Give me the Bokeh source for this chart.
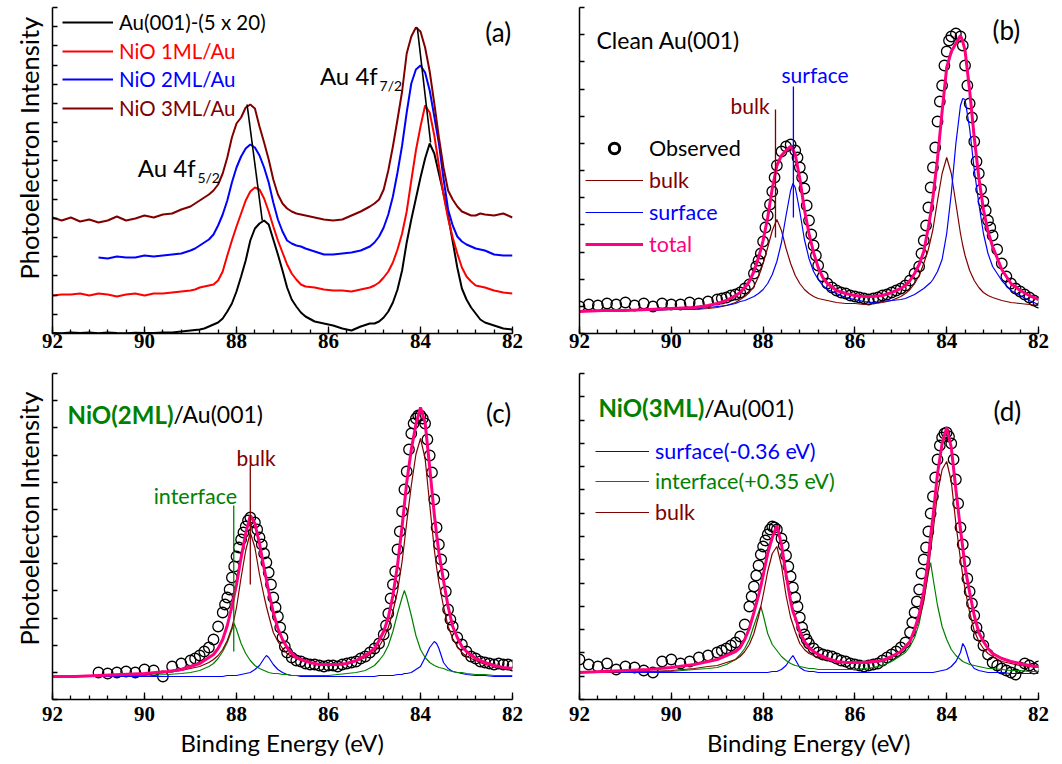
import math
from bokeh.plotting import figure
from bokeh.models import (Range1d, SingleIntervalTicker, FixedTicker, CustomJSTickFormatter,
                          Label, Legend, LegendItem, Title)
from bokeh.layouts import row, column
from bokeh.embed import file_html
from bokeh.resources import INLINE

# ======================= DATA =======================
# ---- panel (a): Au 4f spectra (binding energy, intensity in arbitrary units) ----
E_A = [92.0, 91.8, 91.6, 91.4, 91.2, 91.0, 90.8, 90.6, 90.4, 90.2,
       90.0, 89.8, 89.6, 89.4, 89.2, 89.0, 88.9, 88.8, 88.7, 88.6,
       88.5, 88.4, 88.3, 88.2, 88.1, 88.0, 87.9, 87.8, 87.7, 87.6,
       87.5, 87.4, 87.3, 87.2, 87.1, 87.0, 86.9, 86.8, 86.7, 86.6,
       86.5, 86.3, 86.1, 85.9, 85.7, 85.5, 85.3, 85.1, 85.0, 84.9,
       84.8, 84.7, 84.6, 84.5, 84.4, 84.3, 84.2, 84.1, 84.0, 83.9,
       83.8, 83.7, 83.6, 83.5, 83.4, 83.3, 83.2, 83.1, 83.0, 82.9,
       82.8, 82.7, 82.6, 82.4, 82.2, 82.0]
A_CLEAN = [0.5, 0.3, 1, 0.5, 1, 0.3, 1, 0.5, 0.3, 0.8,
           0.5, 0.5, 1, 1, 2, 3, 3.5, 4, 5, 7,
           9, 11, 15, 22, 30, 42, 57, 73, 93, 105,
           110, 113, 109, 94, 79, 63, 46, 34, 27, 21,
           17, 12, 10, 8, 5, 3, 7, 10, 10, 12,
           16, 22, 31, 44, 63, 91, 114, 135, 156, 175,
           190, 180, 160, 140, 118, 92, 66, 45, 34, 26,
           20, 14, 11, 8, 5, 4]
A_1ML = [38, 39, 39, 40, 38, 40, 39, 37, 39, 40,
         38, 40, 40, 41, 42, 43, 44, 46, 47, 48,
         49, 53, 62, 78, 93, 107, 120, 133, 142, 146,
         144, 135, 122, 107, 93, 81, 69, 60, 54, 49,
         47, 46, 44, 43, 43, 42, 44, 46, 48, 51,
         56, 62, 71, 84, 100, 122, 153, 183, 207, 228,
         221, 198, 168, 139, 115, 96, 80, 66, 57, 52,
         48, 47, 46, 43, 41, 40]
A_2ML = [None, None, None, None, None, 76, 75, 77, 76, 76,
         78, 77, 78, 79, 80, 83, 85, 88, 91, 94,
         99, 108, 119, 133, 151, 166, 177, 185, 189, 186,
         178, 166, 151, 131, 114, 102, 93, 90, 88, 87,
         85, 82, 79, 79, 80, 81, 83, 87, 91, 97,
         106, 119, 137, 161, 188, 221, 250, 264, 268, 261,
         243, 217, 190, 155, 124, 108, 97, 92, 89, 87,
         85, 84, 83, 79, 78, 78]
A_3ML = [116, 113, 116, 112, 114, 111, 113, 117, 113, 115,
         118, 116, 119, 120, 124, 127, 130, 133, 136, 139,
         143, 149, 160, 176, 196, 210, 216, 226, 229, 225,
         207, 191, 174, 154, 139, 130, 125, 122, 120, 119,
         118, 116, 114, 113, 114, 118, 122, 127, 130, 134,
         144, 163, 187, 214, 242, 280, 297, 306, 302, 286,
         262, 230, 196, 166, 143, 134, 127, 122, 120, 118,
         118, 120, 119, 118, 120, 116]
# peak-maximum shift guides (3ML peak -> clean peak)
A_SHIFT52_E = [87.77, 87.44]
A_SHIFT52_I = [229, 113]
A_SHIFT72_E = [84.07, 83.78]
A_SHIFT72_I = [306, 191]

# ---- common energy grid of the fitted components, panels (b)-(d) ----
E_FIT = [92.0, 91.5, 91.0, 90.5, 90.0, 89.5, 89.2, 89.0, 88.8, 88.6,
         88.5, 88.4, 88.3, 88.2, 88.1, 88.05, 88.0, 87.9, 87.8, 87.7,
         87.6, 87.5, 87.4, 87.35, 87.3, 87.2, 87.1, 87.0, 86.9, 86.8,
         86.7, 86.6, 86.4, 86.2, 86.0, 85.8, 85.6, 85.4, 85.2, 85.0,
         84.9, 84.8, 84.7, 84.6, 84.5, 84.4, 84.35, 84.3, 84.2, 84.1,
         84.0, 83.9, 83.8, 83.7, 83.65, 83.6, 83.5, 83.4, 83.3, 83.2,
         83.1, 83.0, 82.8, 82.6, 82.4, 82.2, 82.0]

# ---- panel (b): clean Au(001) ----
OBS_B = [(92.0, 27), (91.8, 29), (91.6, 28), (91.4, 30), (91.2, 29), (91.0, 31), (90.8, 28),
         (90.6, 30), (90.4, 27), (90.2, 30), (90.0, 29), (89.8, 29), (89.6, 31), (89.4, 30),
         (89.2, 32), (89.0, 34), (88.9, 35), (88.8, 36), (88.7, 38), (88.6, 39), (88.5, 41),
         (88.4, 45), (88.3, 49), (88.2, 60), (88.15, 67), (88.1, 73), (88.05, 80), (88.0, 92),
         (87.95, 106), (87.9, 118), (87.85, 129), (87.8, 142), (87.75, 156), (87.7, 168),
         (87.6, 182), (87.5, 187), (87.4, 189), (87.3, 183), (87.25, 176), (87.2, 166),
         (87.15, 156), (87.1, 145), (87.05, 128), (87.0, 113), (86.95, 99), (86.9, 88),
         (86.85, 78), (86.8, 68), (86.7, 57), (86.6, 50), (86.5, 46), (86.4, 43), (86.3, 41),
         (86.2, 40), (86.1, 38), (86.0, 37), (85.9, 36), (85.8, 35), (85.7, 34), (85.6, 35),
         (85.5, 36), (85.4, 38), (85.3, 39), (85.2, 41), (85.1, 43), (85.0, 45), (84.9, 48),
         (84.8, 53), (84.7, 60), (84.6, 67), (84.55, 80), (84.5, 93), (84.45, 108), (84.4, 126),
         (84.35, 146), (84.3, 166), (84.25, 186), (84.2, 212), (84.15, 232), (84.1, 248),
         (84.05, 268), (84.0, 282), (83.95, 293), (83.9, 297), (83.8, 300), (83.7, 297),
         (83.65, 288), (83.6, 268), (83.55, 248), (83.5, 230), (83.45, 216), (83.4, 192),
         (83.35, 172), (83.3, 160), (83.25, 144), (83.2, 132), (83.15, 123), (83.1, 113),
         (83.05, 106), (83.0, 98), (82.9, 84), (82.8, 70), (82.7, 57), (82.6, 50), (82.5, 45),
         (82.4, 42), (82.3, 39), (82.2, 36), (82.1, 33), (82.0, 31)]
B_TOTAL = [22, 23, 23, 24, 25, 26, 28, 30, 33, 38,
           41, 46, 52, 62, 76, 84, 93, 116, 145, 168,
           178, 183, 187, 184, 179, 155, 124, 100, 81, 66,
           56, 50, 43, 40, 38, 37, 37, 38, 41, 45,
           48, 53, 60, 69, 82, 106, 120, 136, 175, 222,
           266, 282, 290, 298, 292, 283, 243, 196, 156, 124,
           102, 87, 64, 50, 43, 38, 34]
B_BULK = [23, 23, 23, 23, 24, 24, 25, 26, 28, 31,
          34, 37, 41, 47, 57, 63, 70, 86, 103, 114,
          103, 85, 70, 64, 58, 50, 44, 40, 37, 35,
          34, 33, 31, 30, 30, 29, 30, 31, 33, 37,
          40, 44, 50, 58, 70, 84, 94, 104, 133, 160,
          176, 160, 130, 100, 88, 78, 63, 53, 46, 41,
          38, 36, 33, 31, 30, 29, 28]
B_SURF = [22, 22, 23, 23, 24, 25, 26, 27, 28, 30,
          32, 33, 35, 37, 40, 42, 44, 50, 59, 72,
          91, 118, 143, 150, 146, 122, 94, 75, 62, 54,
          48, 44, 40, 36, 34, 32, 31, 32, 33, 34,
          35, 37, 39, 42, 45, 49, 51, 54, 62, 74,
          100, 140, 190, 228, 235, 234, 205, 164, 130, 100,
          80, 67, 53, 43, 38, 33, 29]
B_MARK_E = [87.73, 87.34]
B_MARK_LO = [96, 116]
B_MARK_HI = [224, 247]

# ---- panel (c): NiO(2ML)/Au(001) ----
OBS_C = [(91.0, 27), (90.8, 26), (90.6, 27), (90.4, 28), (90.2, 27), (90.0, 30), (89.8, 29),
         (89.6, 23), (89.4, 33), (89.2, 36), (89.0, 39), (88.9, 41), (88.8, 44), (88.7, 48),
         (88.6, 52), (88.5, 60), (88.4, 73), (88.3, 87), (88.25, 95), (88.2, 102), (88.15, 110),
         (88.1, 122), (88.05, 133), (88.0, 143), (87.95, 152), (87.9, 160), (87.85, 167),
         (87.8, 173), (87.75, 179), (87.7, 182), (87.6, 177), (87.55, 170), (87.5, 162),
         (87.45, 155), (87.4, 146), (87.35, 137), (87.3, 127), (87.25, 115), (87.2, 102),
         (87.15, 92), (87.1, 83), (87.05, 72), (87.0, 62), (86.95, 53), (86.9, 47), (86.8, 42),
         (86.7, 39), (86.6, 38), (86.5, 36), (86.4, 35), (86.3, 35), (86.2, 34), (86.1, 33),
         (86.0, 34), (85.9, 34), (85.8, 33), (85.7, 35), (85.6, 36), (85.5, 37), (85.4, 38),
         (85.3, 41), (85.2, 43), (85.1, 47), (85.0, 51), (84.9, 56), (84.8, 65), (84.75, 74),
         (84.7, 86), (84.65, 101), (84.6, 115), (84.55, 128), (84.5, 150), (84.45, 168),
         (84.4, 188), (84.35, 210), (84.3, 228), (84.25, 250), (84.2, 266), (84.15, 276),
         (84.1, 281), (84.05, 284), (84.0, 284), (83.95, 281), (83.9, 276), (83.85, 260),
         (83.8, 244), (83.75, 227), (83.7, 200), (83.65, 172), (83.6, 155), (83.55, 140),
         (83.5, 125), (83.45, 108), (83.4, 90), (83.35, 80), (83.3, 73), (83.2, 62), (83.1, 55),
         (83.0, 48), (82.9, 43), (82.8, 41), (82.7, 38), (82.6, 37), (82.5, 36), (82.4, 35),
         (82.3, 36), (82.2, 35), (82.1, 35), (82.0, 34)]
C_TOTAL = [23, 23, 24, 25, 26, 28, 30, 33, 36, 42,
           45, 51, 60, 74, 93, 104, 115, 142, 166, 184,
           176, 156, 131, 120, 108, 87, 71, 60, 52, 46,
           42, 40, 37, 35, 35, 35, 36, 39, 44, 51,
           59, 68, 82, 104, 134, 173, 195, 217, 250, 275,
           292, 277, 232, 185, 165, 147, 119, 93, 73, 62,
           53, 48, 41, 37, 34, 32, 31]
C_BULK = [24, 24, 24, 25, 25, 27, 29, 31, 33, 37,
          40, 44, 50, 59, 72, 81, 92, 122, 149, 167,
          152, 125, 103, 93, 84, 67, 58, 51, 46, 43,
          41, 39, 37, 35, 35, 35, 36, 38, 42, 48,
          53, 61, 72, 88, 108, 138, 157, 177, 214, 245,
          261, 241, 195, 150, 132, 117, 93, 73, 61, 53,
          47, 43, 39, 35, 33, 32, 31]
C_INTF = [23, 23, 24, 24, 24, 25, 26, 27, 29, 33,
          36, 41, 48, 57, 70, 76, 70, 56, 46, 39,
          34, 31, 29, 28, 27, 26, 26, 25, 25, 24,
          24, 24, 24, 24, 24, 25, 26, 27, 29, 34,
          39, 45, 54, 68, 86, 102, 109, 102, 84, 64,
          50, 42, 37, 34, 33, 32, 31, 29, 28, 27,
          27, 26, 25, 25, 24, 24, 24]
C_SURF = [23, 23, 23, 23, 23, 23, 23, 23, 23, 23,
          23, 23, 23, 24, 24, 24, 24, 25, 26, 27,
          30, 34, 41, 44, 42, 35, 30, 27, 25, 24,
          24, 23, 23, 23, 23, 23, 23, 23, 23, 23,
          24, 24, 24, 24, 25, 25, 26, 26, 27, 30,
          33, 42, 52, 58, 56, 51, 37, 31, 28, 27,
          26, 25, 24, 24, 23, 23, 23]
C_MARK_E = [87.70, 88.06]
C_MARK_LO = [115, 48]
C_MARK_HI = [235, 194]

# ---- panel (d): NiO(3ML)/Au(001) ----
OBS_D = [(92.0, 40), (91.8, 35), (91.6, 33), (91.4, 36), (91.2, 30), (91.0, 33), (90.8, 32),
         (90.6, 29), (90.4, 27), (90.2, 38), (90.0, 40), (89.8, 36), (89.6, 38), (89.4, 42),
         (89.2, 44), (89.0, 47), (88.9, 49), (88.8, 51), (88.7, 54), (88.6, 57), (88.5, 63),
         (88.4, 75), (88.3, 93), (88.25, 103), (88.2, 113), (88.15, 124), (88.1, 134),
         (88.05, 145), (88.0, 153), (87.95, 159), (87.9, 165), (87.85, 170), (87.8, 173),
         (87.75, 172), (87.7, 170), (87.6, 161), (87.55, 154), (87.5, 144), (87.45, 133),
         (87.4, 123), (87.35, 112), (87.3, 102), (87.25, 93), (87.2, 82), (87.15, 72),
         (87.1, 65), (87.05, 60), (87.0, 56), (86.9, 51), (86.8, 47), (86.7, 45), (86.6, 44),
         (86.5, 43), (86.4, 41), (86.3, 39), (86.2, 38), (86.1, 36), (86.0, 35), (85.9, 34),
         (85.8, 33), (85.7, 34), (85.6, 35), (85.5, 36), (85.4, 39), (85.3, 42), (85.2, 45),
         (85.1, 48), (85.0, 52), (84.9, 57), (84.8, 67), (84.75, 77), (84.7, 87), (84.65, 98),
         (84.6, 110), (84.55, 126), (84.5, 140), (84.45, 152), (84.4, 168), (84.35, 186),
         (84.3, 203), (84.25, 222), (84.2, 240), (84.15, 254), (84.1, 262), (84.05, 266),
         (84.0, 267), (83.95, 263), (83.9, 256), (83.85, 240), (83.8, 220), (83.75, 196),
         (83.7, 172), (83.65, 155), (83.6, 138), (83.55, 121), (83.5, 108), (83.45, 96),
         (83.4, 84), (83.35, 72), (83.3, 64), (83.2, 54), (83.1, 45), (83.0, 37), (82.9, 34),
         (82.8, 31), (82.7, 29), (82.6, 27), (82.5, 25), (82.4, 32), (82.3, 36), (82.2, 34),
         (82.1, 31), (82.0, 33)]
D_TOTAL = [27, 28, 29, 30, 32, 35, 38, 40, 44, 48,
           52, 60, 71, 87, 104, 113, 124, 146, 162, 174,
           155, 125, 98, 88, 82, 68, 58, 52, 48, 45,
           43, 41, 38, 37, 37, 37, 38, 39, 43, 48,
           53, 58, 70, 85, 108, 140, 164, 182, 226, 256,
           272, 252, 210, 170, 152, 132, 107, 84, 67, 58,
           51, 46, 41, 38, 36, 34, 33]
D_BULK = [27, 27, 28, 28, 29, 31, 33, 34, 37, 40,
          43, 48, 55, 66, 83, 93, 104, 128, 146, 153,
          134, 104, 82, 75, 68, 56, 50, 46, 44, 42,
          41, 40, 38, 37, 36, 36, 37, 38, 42, 48,
          53, 58, 68, 80, 98, 128, 150, 167, 206, 230,
          238, 218, 176, 140, 124, 110, 87, 69, 58, 51,
          46, 43, 38, 36, 34, 33, 32]
D_INTF = [27, 27, 28, 28, 28, 30, 31, 32, 35, 40,
          45, 51, 60, 74, 87, 93, 85, 66, 55, 49,
          43, 39, 36, 35, 34, 33, 32, 31, 31, 30,
          30, 30, 30, 30, 30, 31, 32, 34, 38, 44,
          47, 53, 62, 76, 100, 126, 137, 122, 94, 73,
          60, 50, 44, 40, 38, 37, 35, 34, 33, 32,
          31, 31, 30, 29, 29, 28, 28]
D_SURF = [27, 27, 27, 27, 27, 27, 27, 27, 27, 27,
          27, 27, 27, 27, 27, 27, 27, 27, 28, 28,
          30, 34, 41, 44, 40, 32, 29, 28, 28, 27,
          27, 27, 27, 27, 27, 27, 27, 27, 27, 27,
          27, 27, 27, 27, 27, 27, 27, 27, 28, 29,
          30, 33, 38, 47, 56, 52, 37, 31, 29, 28,
          27, 27, 27, 26, 26, 26, 26]

for arr in (A_CLEAN, A_1ML, A_2ML, A_3ML):
    assert len(arr) == len(E_A)
for arr in (B_TOTAL, B_BULK, B_SURF, C_TOTAL, C_BULK, C_INTF, C_SURF,
            D_TOTAL, D_BULK, D_INTF, D_SURF):
    assert len(arr) == len(E_FIT)

# ======================= STYLE =======================
BLACK = "#000000"
RED = "#FF0000"
BLUE = "#0000FF"
WINE = "#800000"
PINK = "#FF0080"
GREEN = "#008000"
SANS = "Lato"
YMAX = 326.0
FRAME_H = 326


def base_fig(width, height, left, right, top, bottom, n_int, label_standoff, xlabel=None):
    p = figure(width=width, height=height, x_range=Range1d(92, 82), y_range=Range1d(0, YMAX),
               output_backend="svg", toolbar_location=None,
               min_border_left=left, min_border_right=right,
               min_border_top=top, min_border_bottom=bottom)
    p.outline_line_color = None
    p.xgrid.visible = False
    p.ygrid.visible = False
    xa = p.xaxis[0]
    xa.ticker = SingleIntervalTicker(interval=2, num_minor_ticks=5)
    xa.major_tick_in = 7
    xa.major_tick_out = 0
    xa.minor_tick_in = 4
    xa.minor_tick_out = 0
    xa.axis_line_width = 1.5
    xa.major_tick_line_width = 1.3
    xa.minor_tick_line_width = 1.3
    xa.major_label_text_font = "Liberation Serif"
    xa.major_label_text_font_style = "bold"
    xa.major_label_text_font_size = "21px"
    xa.major_label_text_color = BLACK
    xa.major_label_standoff = label_standoff
    if xlabel:
        xa.axis_label = xlabel
        xa.axis_label_text_font = SANS
        xa.axis_label_text_font_style = "normal"
        xa.axis_label_text_font_size = "24px"
        xa.axis_label_text_color = BLACK
        xa.axis_label_standoff = 4
    ya = p.yaxis[0]
    ya.ticker = FixedTicker(ticks=[YMAX * k / n_int for k in range(n_int + 1)], minor_ticks=[])
    ya.formatter = CustomJSTickFormatter(code="return ''")
    ya.major_tick_in = 5
    ya.major_tick_out = 0
    ya.minor_tick_in = 0
    ya.minor_tick_out = 0
    ya.major_label_standoff = 0
    ya.axis_line_width = 1.5
    ya.major_tick_line_width = 1.3
    return p


def text(p, x, y, s, size, color=BLACK, style="normal", baseline="alphabetic", align="left"):
    p.add_layout(Label(x=x, y=y, text=s, text_font=SANS, text_font_size=f"{size}px",
                       text_color=color, text_font_style=style, text_align=align,
                       text_baseline=baseline))


def legend_item(p, renderer, label, color, vx, yc_from_top, glyph_w, H=26, fs="21.5px"):
    yc = FRAME_H - yc_from_top
    leg = Legend(items=[LegendItem(label=label, renderers=[renderer])],
                 location=(vx, yc - H / 2), orientation="vertical",
                 glyph_width=glyph_w, glyph_height=H, label_height=H, label_standoff=6,
                 padding=0, margin=0, spacing=0, border_line_color=None,
                 background_fill_alpha=0, inactive_fill_alpha=0, label_text_font=SANS,
                 label_text_font_size=fs, label_text_color=color)
    p.add_layout(leg)


def ytitle(p, s, offset):
    p.add_layout(Title(text=s, align="left", offset=offset, standoff=18,
                       text_font=SANS, text_font_size="25.5px", text_font_style="normal",
                       text_color=BLACK), "left")


# ---------------- (a) ----------------
pa = base_fig(531, 365, 52, 19, 7, 32, 17, 0)
ra1 = pa.line(E_A, A_CLEAN, line_color=BLACK, line_width=2)
ra2 = pa.line(E_A, A_1ML, line_color=RED, line_width=2)
ra3 = pa.line(E_A[5:], A_2ML[5:], line_color=BLUE, line_width=2)
ra4 = pa.line(E_A, A_3ML, line_color=WINE, line_width=2)
pa.line(A_SHIFT52_E, A_SHIFT52_I, line_color=BLACK, line_width=1.6)
pa.line(A_SHIFT72_E, A_SHIFT72_I, line_color=BLACK, line_width=1.6)
for r, lab, col, yc in ((ra1, "Au(001)-(5 x 20)", BLACK, 15), (ra2, "NiO 1ML/Au", RED, 44),
                        (ra3, "NiO 2ML/Au", BLUE, 72), (ra4, "NiO 3ML/Au", WINE, 101)):
    legend_item(pa, r, lab, col, 10, yc, 51, fs="20.5px")
text(pa, 82.03, 301.5, "(a)", 26, baseline="middle", align="right")
text(pa, 84.93, 258, "Au 4f", 24, align="right")
text(pa, 84.89, 248, "7/2", 14)
text(pa, 88.89, 166, "Au 4f", 24, align="right")
text(pa, 88.85, 156, "5/2", 14)
ytitle(pa, "Photoelectron Intensity", 54)

# ---------------- (b) ----------------
pb = base_fig(530, 365, 48, 23, 7, 32, 12, 0)
OBS_B_E = [e for e, _ in OBS_B]
OBS_B_I = [v for _, v in OBS_B]
pb.scatter(OBS_B_E, OBS_B_I, marker="circle", size=10.5, fill_color=None,
           line_color=BLACK, line_width=1.3)
rb_bulk = pb.line(E_FIT, B_BULK, line_color=WINE, line_width=1.2)
rb_surf = pb.line(E_FIT, B_SURF, line_color=BLUE, line_width=1.2)
rb_tot = pb.line(E_FIT, B_TOTAL, line_color=PINK, line_width=3)
pb.segment(x0=B_MARK_E, y0=B_MARK_LO, x1=B_MARK_E, y1=B_MARK_HI,
           line_color=[WINE, BLUE], line_width=1.3)
# bold-circle proxy used only for the legend entry
rb_obs_leg = pb.scatter(OBS_B_E, OBS_B_I, marker="circle", size=10, fill_color=None,
                        line_color=BLACK, line_width=3, visible=False)
for r, lab, col, yc in ((rb_obs_leg, "Observed", BLACK, 141), (rb_bulk, "bulk", WINE, 173),
                        (rb_surf, "surface", BLUE, 205), (rb_tot, "total", PINK, 237)):
    legend_item(pb, r, lab, col, 6, yc, 58)
text(pb, 83.0, 303.5, "(b)", 26, baseline="middle")
text(pb, 91.63, 293.5, "Clean Au(001)", 23)
text(pb, 87.60, 259, "surface", 21, BLUE)
text(pb, 88.71, 228, "bulk", 21, WINE)

# ---------------- (c) ----------------
pc = base_fig(531, 398, 52, 19, 8, 64, 12, 7, "Binding Energy (eV)")
OBS_C_E = [e for e, _ in OBS_C]
OBS_C_I = [v for _, v in OBS_C]
pc.scatter(OBS_C_E, OBS_C_I, marker="circle", size=10.5, fill_color=None,
           line_color=BLACK, line_width=1.3)
pc.line(E_FIT, C_SURF, line_color=BLUE, line_width=1.2)
pc.line(E_FIT, C_INTF, line_color=GREEN, line_width=1.2)
pc.line(E_FIT, C_BULK, line_color=WINE, line_width=1.2)
pc.line(E_FIT, C_TOTAL, line_color=PINK, line_width=3)
pc.segment(x0=C_MARK_E, y0=C_MARK_LO, x1=C_MARK_E, y1=C_MARK_HI,
           line_color=[WINE, GREEN], line_width=1.3)
text(pc, 82.03, 287, "(c)", 26, baseline="middle", align="right")
text(pc, 89.37, 285.3, "NiO(2ML)", 24, GREEN, "bold", align="right")
text(pc, 89.37, 285.3, "/Au(001)", 23)
text(pc, 88.0, 242, "bulk", 21, WINE)
text(pc, 89.80, 204, "interface", 21.5, GREEN)
ytitle(pc, "Photoelecton Intensity", 54)

# ---------------- (d) ----------------
pd_ = base_fig(530, 398, 48, 23, 8, 64, 14, 7, "Binding Energy (eV)")
OBS_D_E = [e for e, _ in OBS_D]
OBS_D_I = [v for _, v in OBS_D]
pd_.scatter(OBS_D_E, OBS_D_I, marker="circle", size=10.5, fill_color=None,
            line_color=BLACK, line_width=1.3)
rd_surf = pd_.line(E_FIT, D_SURF, line_color=BLUE, line_width=1.2)
rd_intf = pd_.line(E_FIT, D_INTF, line_color=GREEN, line_width=1.2)
rd_bulk = pd_.line(E_FIT, D_BULK, line_color=WINE, line_width=1.2)
pd_.line(E_FIT, D_TOTAL, line_color=PINK, line_width=3)
for r, lab, col, yc in ((rd_surf, "surface(-0.36 eV)", BLUE, 78),
                        (rd_intf, "interface(+0.35 eV)", GREEN, 108),
                        (rd_bulk, "bulk", WINE, 139)):
    legend_item(pd_, r, lab, col, 16, yc, 54)
text(pd_, 82.98, 288.5, "(d)", 26, baseline="middle")
text(pd_, 89.28, 292, "NiO(3ML)", 24, GREEN, "bold", align="right")
text(pd_, 89.28, 292, "/Au(001)", 23)

layout = column(row(pa, pb), row(pc, pd_))
open("out.html", "w").write(file_html(layout, INLINE))
